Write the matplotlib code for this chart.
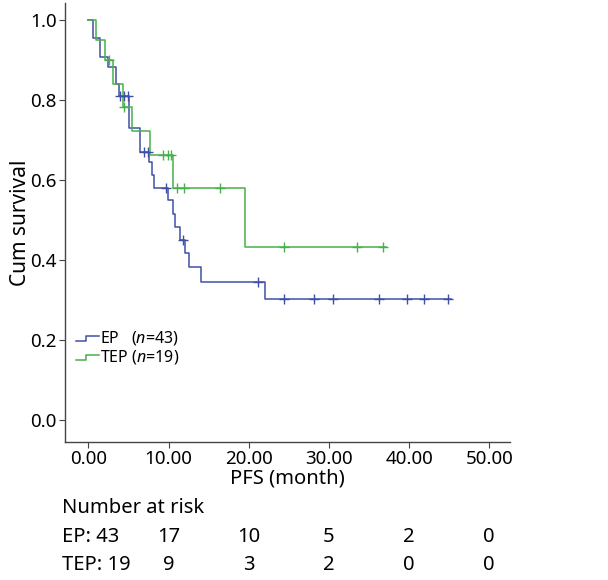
import numpy as np
import matplotlib
matplotlib.use("Agg")
import matplotlib.pyplot as plt
from matplotlib.lines import Line2D
from matplotlib.legend_handler import HandlerBase
from matplotlib.ticker import FormatStrFormatter

plt.rcParams['font.family'] = ['Noto Sans', 'DejaVu Sans']
plt.rcParams['mathtext.fontset'] = 'custom'
plt.rcParams['mathtext.it'] = 'Noto Sans:italic'
plt.rcParams['mathtext.rm'] = 'Noto Sans'

# EP (n=43): step times and survival after each step
ep_time = [0, 0.55, 1.4, 2.5, 3.5, 3.8, 5.1, 6.4, 7.6, 8.0, 8.2, 9.9, 10.6, 10.8,
           11.4, 12.1, 12.6, 14.0, 22.0, 45.2]
ep_surv = [1.0, 0.954, 0.908, 0.883, 0.839, 0.81, 0.729, 0.671, 0.645, 0.613, 0.58,
           0.55, 0.515, 0.483, 0.45, 0.417, 0.383, 0.346, 0.302, 0.302]
ep_cens = [4.0, 4.5, 4.9, 7.0, 7.4, 9.7, 11.8, 21.2, 24.4, 28.2, 30.5, 36.2, 39.8,
           41.9, 44.9]

# TEP (n=19)
tep_time = [0, 0.95, 2.1, 3.1, 4.3, 5.5, 7.7, 10.5, 19.5, 37.1]
tep_surv = [1.0, 0.95, 0.90, 0.839, 0.783, 0.723, 0.662, 0.579, 0.433, 0.433]
tep_cens = [2.6, 4.5, 9.3, 9.9, 10.3, 11.0, 11.9, 16.4, 24.4, 33.5, 36.8]

risk_times = [0, 10, 20, 30, 40, 50]
ep_risk = [43, 17, 10, 5, 2, 0]
tep_risk = [19, 9, 3, 2, 0, 0]

blue = '#3f4fa6'
green = '#48b04c'


def level_at(times, surv, t):
    i = np.searchsorted(times, t, side='right') - 1
    return surv[i]


class StepHandler(HandlerBase):
    def create_artists(self, legend, orig_handle, xdescent, ydescent,
                       width, height, fontsize, trans):
        xs = np.array([0, 0.45, 0.45, 1.0]) * width - xdescent
        ys = np.array([0.15, 0.15, 0.6, 0.6]) * height - ydescent
        line = Line2D(xs, ys, color=orig_handle.get_color(), lw=1.1)
        line.set_transform(trans)
        return [line]


fig = plt.figure(figsize=(6.08, 5.80), dpi=100)
ax = fig.add_axes([0.107, 0.238, 0.732, 0.757])

h1, = ax.step(ep_time, ep_surv, where='post', color=blue, lw=1.1)
h2, = ax.step(tep_time, tep_surv, where='post', color=green, lw=1.1)
ax.plot(ep_cens, [level_at(ep_time, ep_surv, t) for t in ep_cens], '+',
        color=blue, ms=7, mew=1.0)
ax.plot(tep_cens, [level_at(tep_time, tep_surv, t) for t in tep_cens], '+',
        color=green, ms=7, mew=1.0)

ax.set_xlim(-2.9, 52.6)
ax.set_ylim(-0.055, 1.0425)
ax.set_xticks(risk_times)
ax.set_yticks([0.0, 0.2, 0.4, 0.6, 0.8, 1.0])
ax.xaxis.set_major_formatter(FormatStrFormatter('%.2f'))
ax.yaxis.set_major_formatter(FormatStrFormatter('%.1f'))
for s in ['top', 'right']:
    ax.spines[s].set_visible(False)
for s in ['left', 'bottom']:
    ax.spines[s].set_color('#444444')
    ax.spines[s].set_linewidth(1.0)
ax.tick_params(direction='out', length=4, color='#444444', labelsize=13.5,
               pad=2)
ax.set_ylabel('Cum survival', fontsize=15, labelpad=-1)
ax.set_xlabel('PFS (month)', fontsize=14.5, labelpad=0)

leg = ax.legend([h1, h2], ['EP   ($\\mathit{n}$=43)', 'TEP ($\\mathit{n}$=19)'],
                handler_map={Line2D: StepHandler()},
                loc='center left', bbox_to_anchor=(0.024, 0.215), frameon=False,
                fontsize=11.5, handlelength=1.45, handletextpad=0.05,
                labelspacing=0.05, borderpad=0, borderaxespad=0.0)

# number at risk table
fig.text(0.102, 0.124, 'Number at risk', fontsize=14.5, va='center')
fig.text(0.102, 0.074, 'EP: %d' % ep_risk[0], fontsize=14.5, va='center')
fig.text(0.102, 0.026, 'TEP: %d' % tep_risk[0], fontsize=14.5, va='center')
trans = matplotlib.transforms.blended_transform_factory(ax.transData, fig.transFigure)
for t, a, b in zip(risk_times[1:], ep_risk[1:], tep_risk[1:]):
    ax.text(t, 0.074, str(a), transform=trans, ha='center', va='center', fontsize=14.5)
    ax.text(t, 0.026, str(b), transform=trans, ha='center', va='center', fontsize=14.5)

fig.savefig('out.png', dpi=100)
